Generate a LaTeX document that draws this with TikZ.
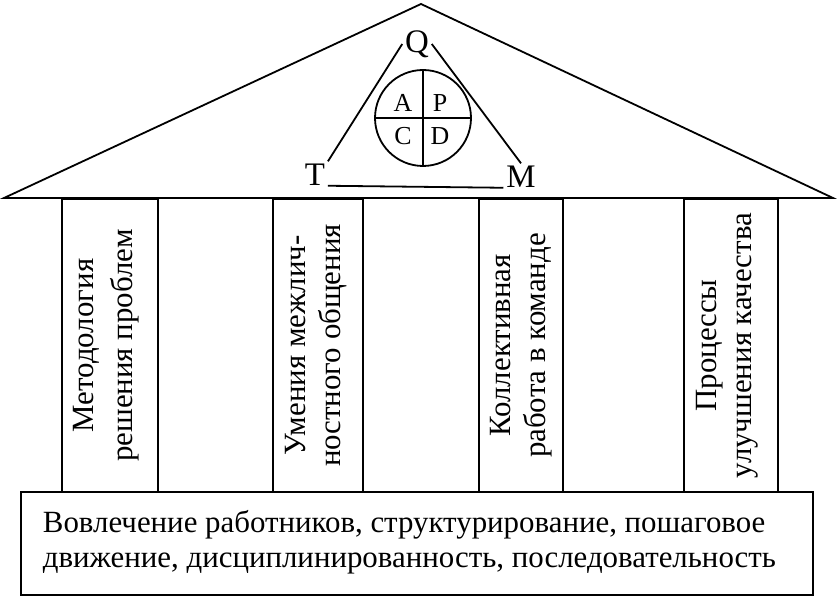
\documentclass[tikz,border=0pt]{standalone}
\usepackage{fontspec}
\setmainfont{Liberation Serif}
\usetikzlibrary{positioning}

\tikzset{
    lbl/.style={font=\fontsize{31}{35}\selectfont, inner sep=2bp},
    pillartext/.style={lbl, rotate=90, align=center},
    qtm/.style={font=\fontsize{33}{37}\selectfont, inner sep=2bp},
    pdcalbl/.style={font=\fontsize{26}{30}\selectfont, inner sep=0pt},
}

\begin{document}
\begin{tikzpicture}[x=1bp, y=1bp, line width=1.8bp]
    \useasboundingbox (0,0) rectangle (837,597);
    % Define coordinates for the roof
    \coordinate (apex) at (421, 593);
    \coordinate (eaveL) at (4, 399); \coordinate (eaveR) at (833, 399);
    \draw[line join=miter] (eaveL) -- (apex) -- (eaveR) -- cycle;

    % Q, T, M and the PDCA circle
    \node[qtm] (Q) at (417, 553) {Q};
    \node[qtm] (T) at (315, 422) {T};
    \node[qtm] (M) at (521, 420) {M};
    \draw (T.north east) -- (Q.west);
    \draw (Q.east) -- (M.north);
    \draw (T.base east) -- (M.base west);

    \node[draw, circle, minimum size=96bp, inner sep=0pt] (pdca) at (423, 479) {};
    \draw (pdca.north) -- (pdca.south);
    \draw (pdca.west) -- (pdca.east);
    \node[pdcalbl] (A) at (403, 494) {A}; \node[pdcalbl] (P) at (440, 494) {P};
    \node[pdcalbl] (C) at (403, 461) {C}; \node[pdcalbl] (D) at (440, 461) {D};

    % Draw the 4 pillars
    \draw (62, 105) rectangle (158, 398);
    \node[pillartext, font=\fontsize{31}{39}\selectfont] (pil1) at (106, 251.5) {Методология\\решения проблем};
    \draw (273, 105) rectangle (363, 398);
    \node[pillartext] (pil2) at (316, 251.5) {Умения межлич-\\ностного общения};
    \draw (479, 105) rectangle (563, 398);
    \node[pillartext] (pil3) at (521, 251.5) {Коллективная\\работа в команде};
    \draw (684, 105) rectangle (778, 398);
    \node[pillartext] (pil4) at (727, 251.5) {Процессы\\улучшения качества};

    % Foundation
    \draw (21, 2) rectangle (813, 105);
    \node[lbl, align=left, anchor=west, inner sep=0pt] (base) at (42, 55) {Вовлечение работников, структурирование, пошаговое\\движение, дисциплинированность, последовательность};
\end{tikzpicture}
\end{document}
